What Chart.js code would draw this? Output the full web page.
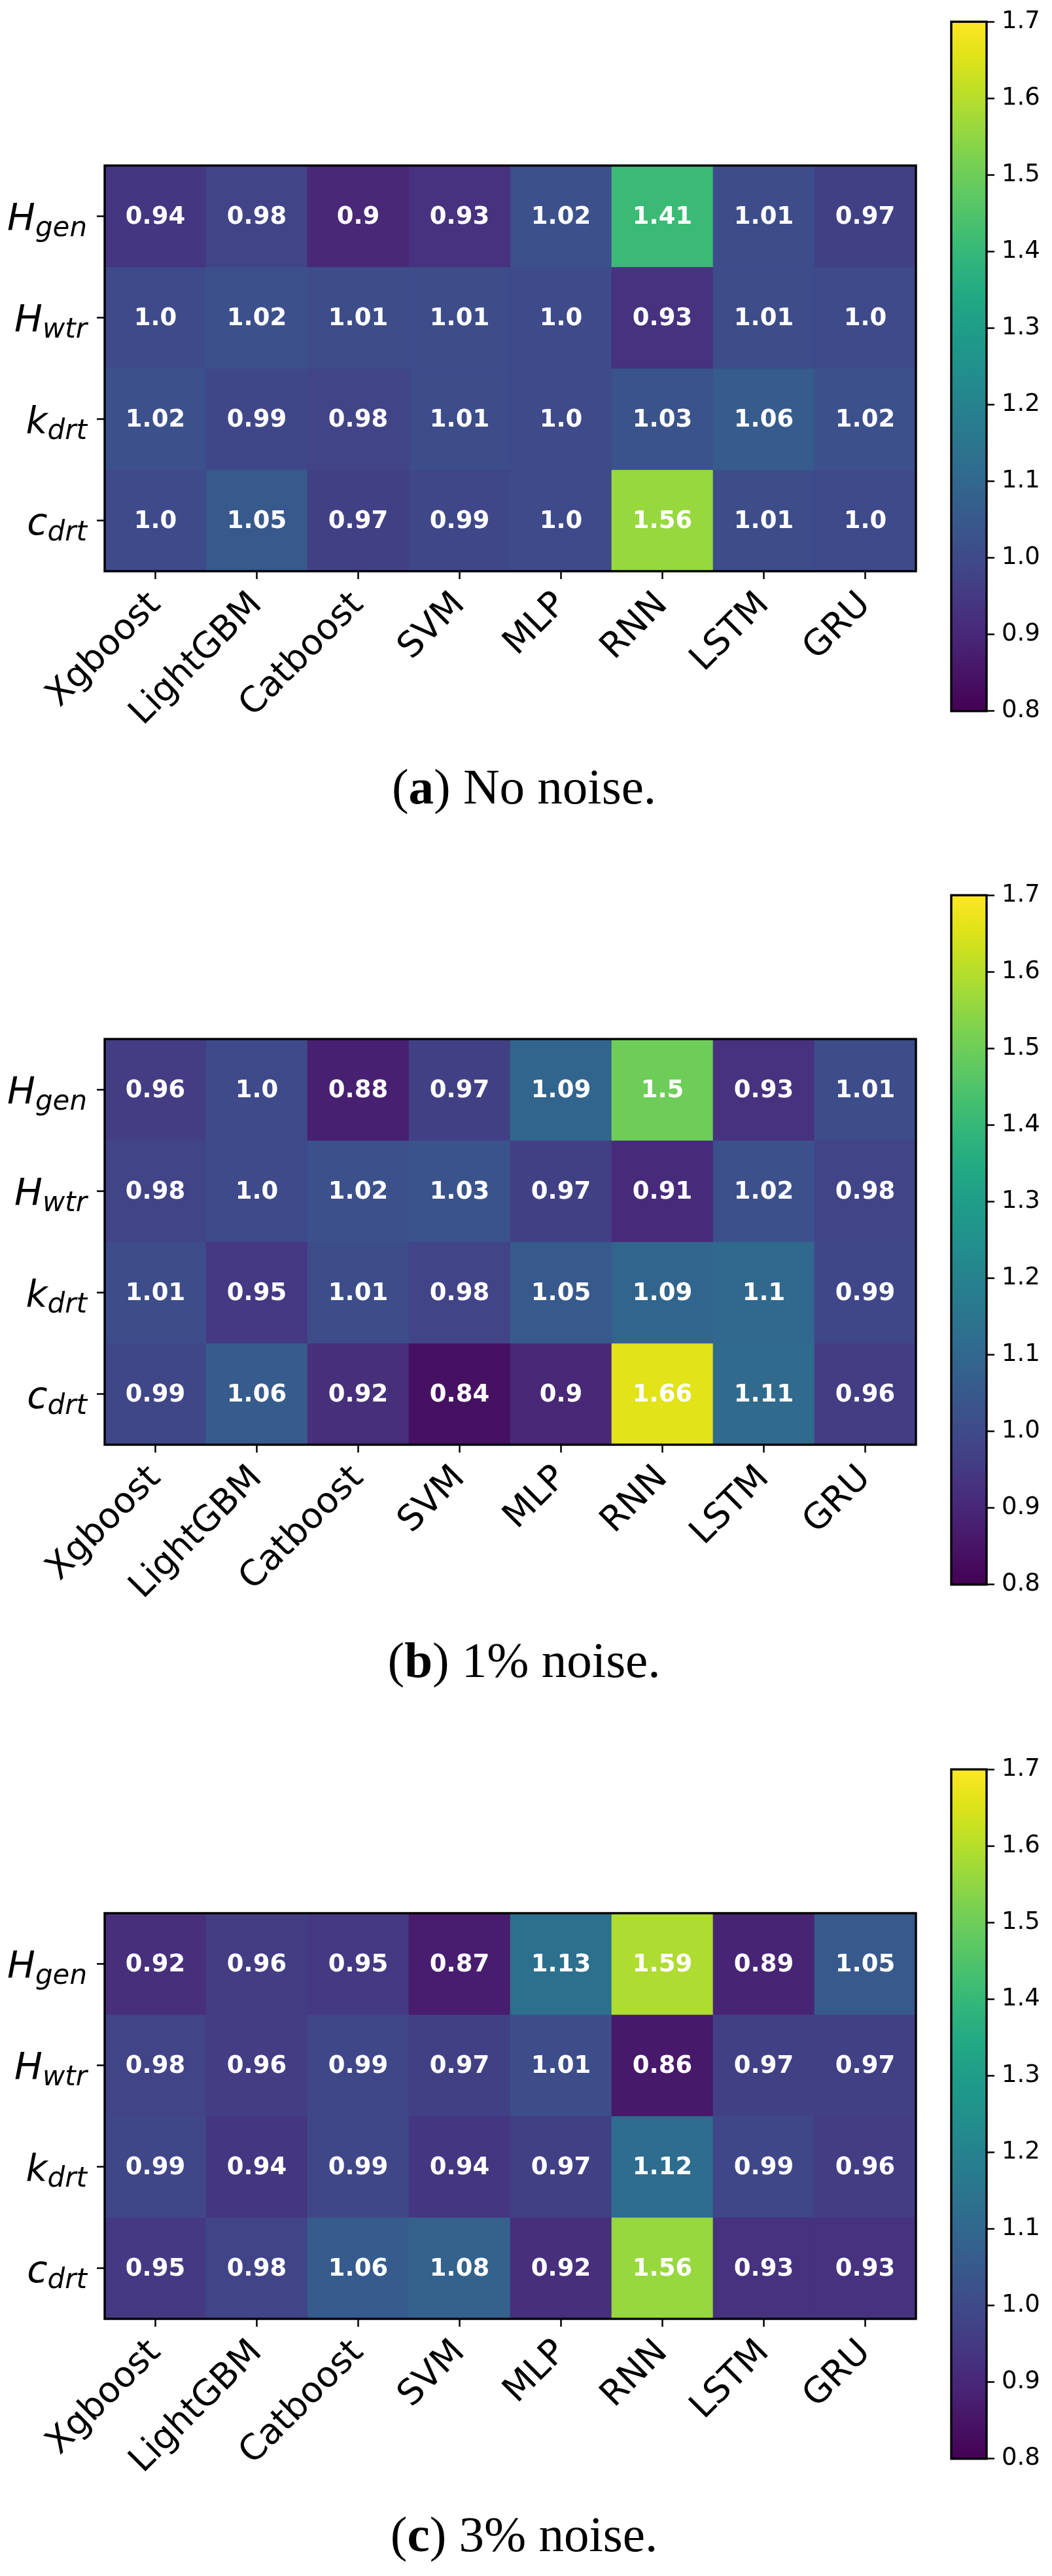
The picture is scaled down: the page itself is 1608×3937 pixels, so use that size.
<!DOCTYPE html>
<html>
<head>
<meta charset="utf-8">
<title>Heatmaps</title>
<script src="https://cdn.jsdelivr.net/npm/chart.js@4.4.1/dist/chart.umd.min.js"></script>
<style>
  body { margin: 0; background: #fff; }
  #page { position: relative; width: 1608px; height: 3937px; overflow: hidden; }
  .panel { position: absolute; left: 0; width: 1608px; height: 1335px; }
  .heat { position: absolute; left: 0; top: 0; }
  .cbar { position: absolute; left: 1440px; top: 0; }
  .caption {
    position: absolute; left: 0; width: 1602px; top: 1164px;
    text-align: center; color: #000;
    font-family: "Liberation Serif", "Times New Roman", serif;
    font-size: 77px; line-height: 77px; white-space: nowrap;
  }
</style>
</head>
<body>
<div id="page"></div>
<script>
// models on the x axis, parameters on the y axis (main letter + subscript)
const models = ['Xgboost', 'LightGBM', 'Catboost', 'SVM', 'MLP', 'RNN', 'LSTM', 'GRU'];
const paramMain = ['H', 'H', 'k', 'c'];
const paramSub = ['gen', 'wtr', 'drt', 'drt'];

// (a) no noise
const noNoise = [
    [0.94, 0.98, 0.9, 0.93, 1.02, 1.41, 1.01, 0.97],
    [1.0, 1.02, 1.01, 1.01, 1.0, 0.93, 1.01, 1.0],
    [1.02, 0.99, 0.98, 1.01, 1.0, 1.03, 1.06, 1.02],
    [1.0, 1.05, 0.97, 0.99, 1.0, 1.56, 1.01, 1.0]
];

// (b) 1% noise
const noise1 = [
    [0.96, 1.0, 0.88, 0.97, 1.09, 1.5, 0.93, 1.01],
    [0.98, 1.0, 1.02, 1.03, 0.97, 0.91, 1.02, 0.98],
    [1.01, 0.95, 1.01, 0.98, 1.05, 1.09, 1.1, 0.99],
    [0.99, 1.06, 0.92, 0.84, 0.9, 1.66, 1.11, 0.96]
];

// (c) 3% noise
const noise3 = [
    [0.92, 0.96, 0.95, 0.87, 1.13, 1.59, 0.89, 1.05],
    [0.98, 0.96, 0.99, 0.97, 1.01, 0.86, 0.97, 0.97],
    [0.99, 0.94, 0.99, 0.94, 0.97, 1.12, 0.99, 0.96],
    [0.95, 0.98, 1.06, 1.08, 0.92, 1.56, 0.93, 0.93]
];

const captionLetters = ['a', 'b', 'c'];
const captionTexts = ['No noise.', '1% noise.', '3% noise.'];
const colorbarTicks = [0.8, 0.9, 1.0, 1.1, 1.2, 1.3, 1.4, 1.5, 1.6, 1.7];

const panelTops = [0, 1335, 2671];
const vmin = colorbarTicks[0];
const vmax = colorbarTicks[colorbarTicks.length - 1];

// viridis, sampled every 5%
const viridis = [
    '#440154', '#471365', '#482475', '#463480', '#414487', '#3b528b', '#355f8d',
    '#2f6c8e', '#2a788e', '#25848e', '#21918c', '#1e9c89', '#22a884', '#2fb47c',
    '#44bf70', '#5ec962', '#7ad151', '#9bd93c', '#bddf26', '#dfe318', '#fde725'
];

function hexToRgb(h) {
    return [parseInt(h.slice(1, 3), 16), parseInt(h.slice(3, 5), 16), parseInt(h.slice(5, 7), 16)];
}

function viridisColor(v) {
    let t = (v - vmin) / (vmax - vmin);
    t = Math.min(1, Math.max(0, t)) * (viridis.length - 1);
    const i = Math.min(Math.floor(t), viridis.length - 2);
    const f = t - i;
    const a = hexToRgb(viridis[i]);
    const b = hexToRgb(viridis[i + 1]);
    const c = a.map((x, k) => Math.round(x + (b[k] - x) * f));
    return `rgb(${c[0]}, ${c[1]}, ${c[2]})`;
}

function formatValue(v) {
    const s = v.toFixed(2);
    return s.endsWith('0') ? s.slice(0, -1) : s;
}

const framePlugin = {
    id: 'frame',
    afterDraw(chart) {
        const { ctx, chartArea } = chart;
        ctx.save();
        ctx.strokeStyle = '#000';
        ctx.lineWidth = 3.4;
        ctx.strokeRect(chartArea.left, chartArea.top, chartArea.right - chartArea.left, chartArea.bottom - chartArea.top);
        ctx.restore();
    }
};

const cellTextPlugin = {
    id: 'cellText',
    afterDatasetsDraw(chart) {
        const ctx = chart.ctx;
        ctx.save();
        ctx.fillStyle = '#fff';
        ctx.font = 'bold 37px "DejaVu Sans"';
        ctx.textAlign = 'center';
        ctx.textBaseline = 'alphabetic';
        chart.data.datasets.forEach((ds, di) => {
            chart.getDatasetMeta(di).data.forEach((bar, j) => {
                const cy = (bar.y + bar.base) / 2;
                ctx.fillText(formatValue(ds.cellValues[j]), bar.x, cy + 11);
            });
        });
        ctx.restore();
    }
};

// y tick labels with a subscript, like matplotlib mathtext
const rowLabelPlugin = {
    id: 'rowLabels',
    afterDraw(chart) {
        const ctx = chart.ctx;
        const yScale = chart.scales.y;
        const xEnd = chart.chartArea.left - 27;
        const mainFont = 'italic 57px "DejaVu Sans"';
        const subFont = 'italic 42px "DejaVu Sans"';
        ctx.save();
        ctx.fillStyle = '#000';
        ctx.textAlign = 'left';
        ctx.textBaseline = 'alphabetic';
        paramMain.forEach((m, i) => {
            const py = yScale.getPixelForValue(i);
            ctx.font = subFont;
            const subW = ctx.measureText(paramSub[i]).width;
            ctx.font = mainFont;
            const mainW = ctx.measureText(m).width;
            ctx.fillText(m, xEnd - subW - mainW, py + 21.5);
            ctx.font = subFont;
            ctx.fillText(paramSub[i], xEnd - subW, py + 30);
        });
        ctx.restore();
    }
};

function drawHeatmap(canvas, values) {
    const datasets = values.map((row, r) => ({
        label: paramMain[r] + '_' + paramSub[r],
        data: row.map(() => [r - 0.5, r + 0.5]),
        cellValues: row,
        backgroundColor: row.map(v => viridisColor(v)),
        borderWidth: 0,
        barPercentage: 1,
        categoryPercentage: 1,
        grouped: false
    }));

    new Chart(canvas, {
        type: 'bar',
        data: { labels: models, datasets: datasets },
        options: {
            responsive: false,
            animation: false,
            events: [],
            layout: { padding: { top: 253, right: 40, left: 0, bottom: 0 } },
            plugins: {
                legend: { display: false },
                tooltip: { enabled: false }
            },
            scales: {
                x: {
                    type: 'category',
                    offset: true,
                    border: { display: false },
                    grid: { offset: false, drawOnChartArea: false, drawTicks: true, tickLength: 12, tickWidth: 2.5, tickColor: '#000' },
                    ticks: {
                        color: '#000',
                        font: { family: 'DejaVu Sans', size: 54 },
                        minRotation: 45,
                        maxRotation: 45,
                        autoSkip: false,
                        padding: 8
                    },
                    afterFit: s => { s.height = 257; }
                },
                y: {
                    type: 'linear',
                    reverse: true,
                    min: -0.5,
                    max: paramMain.length - 0.5,
                    afterBuildTicks: s => { s.ticks = paramMain.map((_, i) => ({ value: i })); },
                    border: { display: false },
                    grid: { drawOnChartArea: false, drawTicks: true, tickLength: 12, tickWidth: 2.5, tickColor: '#000' },
                    ticks: { display: false },
                    afterFit: s => { s.width = 160; }
                }
            }
        },
        plugins: [cellTextPlugin, framePlugin, rowLabelPlugin]
    });
}

function drawColorbar(canvas) {
    new Chart(canvas, {
        type: 'bar',
        data: {
            labels: [''],
            datasets: [{
                data: [[vmin, vmax]],
                backgroundColor: context => {
                    const chart = context.chart;
                    const area = chart.chartArea;
                    if (!area) return viridis[0];
                    const y = chart.scales.y;
                    const g = chart.ctx.createLinearGradient(0, y.getPixelForValue(vmin), 0, y.getPixelForValue(vmax));
                    viridis.forEach((c, i) => g.addColorStop(i / (viridis.length - 1), c));
                    return g;
                },
                borderWidth: 0,
                barPercentage: 1,
                categoryPercentage: 1
            }]
        },
        options: {
            responsive: false,
            animation: false,
            events: [],
            layout: { padding: { top: 29, left: 14, bottom: 21, right: 0 } },
            plugins: {
                legend: { display: false },
                tooltip: { enabled: false }
            },
            scales: {
                x: { display: false },
                y: {
                    position: 'right',
                    min: vmin,
                    max: vmax,
                    afterBuildTicks: s => { s.ticks = colorbarTicks.map(v => ({ value: v })); },
                    border: { display: false },
                    grid: { drawOnChartArea: false, drawTicks: true, tickLength: 12, tickWidth: 2.5, tickColor: '#000' },
                    ticks: {
                        color: '#000',
                        font: { family: 'DejaVu Sans', size: 37 },
                        padding: 11,
                        callback: v => v.toFixed(1)
                    },
                    afterFit: s => { s.width = 100; }
                }
            }
        },
        plugins: [framePlugin]
    });
}

document.addEventListener('DOMContentLoaded', function () {
    const page = document.getElementById('page');
    const panels = [noNoise, noise1, noise3];

    panels.forEach((values, i) => {
        const panel = document.createElement('div');
        panel.className = 'panel';
        panel.style.top = panelTops[i] + 'px';

        const heat = document.createElement('canvas');
        heat.className = 'heat';
        heat.width = 1440;
        heat.height = 1130;
        heat.style.width = '1440px';
        heat.style.height = '1130px';
        panel.appendChild(heat);

        const cbar = document.createElement('canvas');
        cbar.className = 'cbar';
        cbar.width = 168;
        cbar.height = 1120;
        cbar.style.width = '168px';
        cbar.style.height = '1120px';
        panel.appendChild(cbar);

        const caption = document.createElement('div');
        caption.className = 'caption';
        caption.innerHTML = '(<b>' + captionLetters[i] + '</b>) ' + captionTexts[i];
        panel.appendChild(caption);

        page.appendChild(panel);

        drawHeatmap(heat, values);
        drawColorbar(cbar);
    });
});
</script>
</body>
</html>
